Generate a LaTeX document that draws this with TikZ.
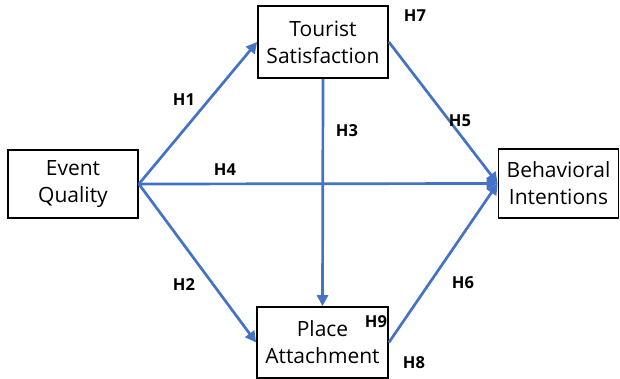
\documentclass[tikz,border=0pt]{standalone}
\usepackage{fontspec}
\setmainfont{Open Sans}
\usetikzlibrary{arrows.meta}
\definecolor{arrowblue}{RGB}{68,114,196}

\begin{document}
\begin{tikzpicture}[x=1pt, y=-1pt,
  box/.style={draw, line width=1.7pt, align=center, inner sep=0pt,
    font=\fontsize{21}{27}\selectfont},
  link/.style={draw=arrowblue, line width=2.7pt,
    -{Triangle[length=11pt, width=11pt]}},
  hyp/.style={font=\bfseries\fontsize{16.5}{18}\selectfont}]
  \useasboundingbox (0,0) rectangle (620,379);

  \node[box, minimum width=130pt, minimum height=68pt] (EQ) at (73,184) {Event\\Quality};
  \node[box, minimum width=130pt, minimum height=72pt] (TS) at (323,42) {Tourist\\Satisfaction};
  \node[box, minimum width=131pt, minimum height=71pt] (PA) at (322.5,342.5) {Place\\Attachment};
  \node[box, minimum width=120pt, minimum height=69pt] (BI) at (558.5,183.5) {Behavioral\\Intentions};

  \draw[link] (EQ.east) -- (TS.west);
  \draw[link] (EQ.east) -- (PA.west);
  \draw[link] (EQ.east) -- (BI.west);
  \draw[link] (TS.south) -- (PA.north);
  \draw[link] (TS.east) -- (BI.west);
  \draw[link] (PA.east) -- (BI.west);

  \node[hyp] (h1) at (184,100) {H1};
  \node[hyp] (h2) at (184,285) {H2};
  \node[hyp] (h3) at (347,131) {H3};
  \node[hyp] (h4) at (225,170) {H4};
  \node[hyp] (h5) at (460,121) {H5};
  \node[hyp] (h6) at (463,283) {H6};
  \node[hyp] (h7) at (415,16) {H7};
  \node[hyp] (h8) at (414,363) {H8};
  \node[hyp] (h9) at (376,322) {H9};
\end{tikzpicture}
\end{document}
